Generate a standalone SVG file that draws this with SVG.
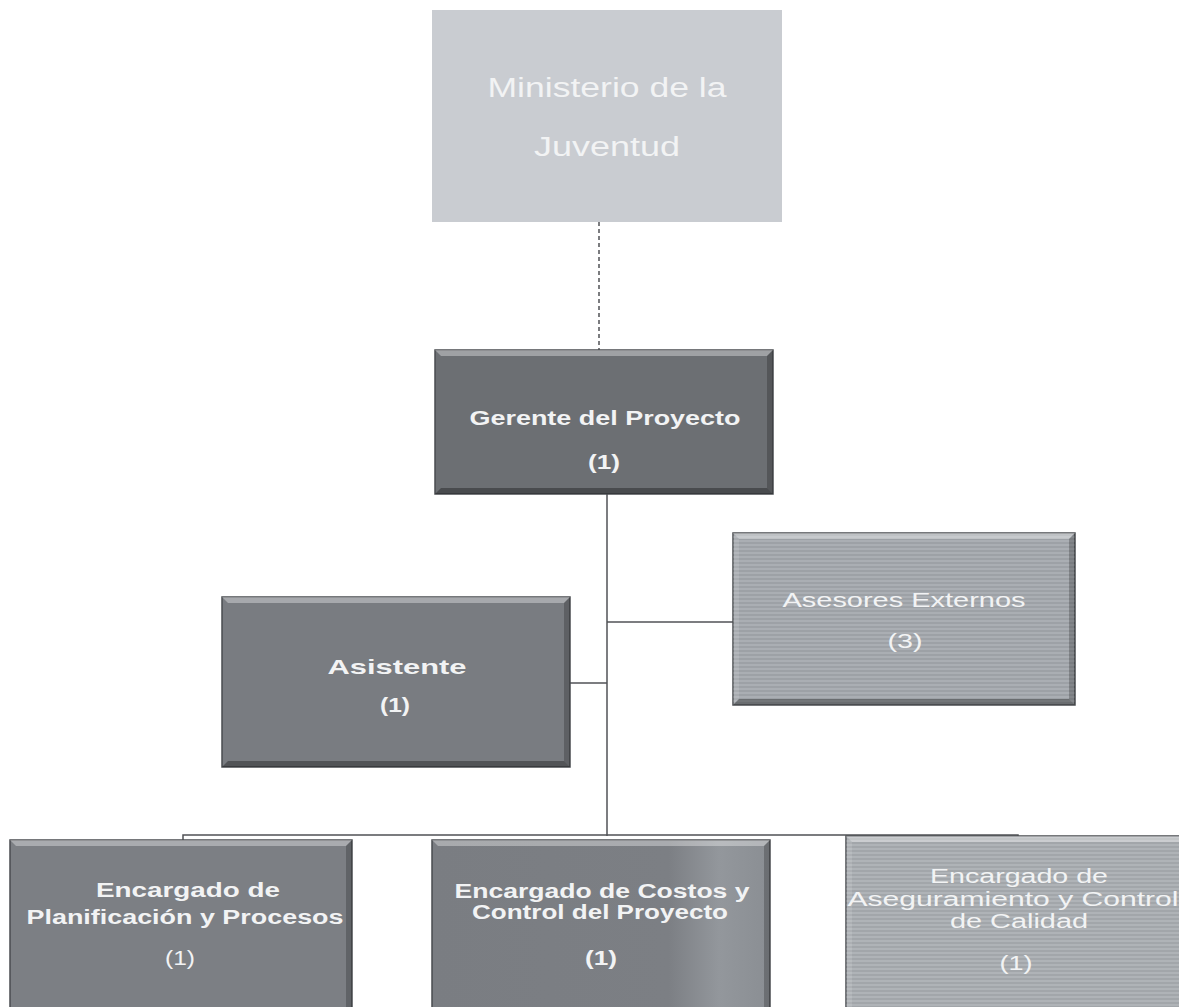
<svg xmlns="http://www.w3.org/2000/svg" width="1179" height="1007" viewBox="0 0 1179 1007">
<defs>
<pattern id="stripes" width="6" height="4" patternUnits="userSpaceOnUse">
<rect width="6" height="4" fill="none"/>
<line x1="0" y1="1" x2="6" y2="1" stroke="#ffffff" stroke-opacity="0.18" stroke-width="1"/>
<line x1="0" y1="3" x2="6" y2="3" stroke="#000000" stroke-opacity="0.06" stroke-width="1"/>
</pattern>
<linearGradient id="costosGrad" x1="0" y1="0" x2="1" y2="0">
<stop offset="0" stop-color="#7a7d82"/>
<stop offset="0.7" stop-color="#7c7f84"/>
<stop offset="0.85" stop-color="#93979c"/>
<stop offset="1" stop-color="#8a8e93"/>
</linearGradient>
</defs>
<style>
.box{stroke:#4a4c50;stroke-width:1.5}
.hl{fill:#ffffff;fill-opacity:0.35}
.hl2{fill:#ffffff;fill-opacity:0.12}
.sh{fill:#000000;fill-opacity:0.22}
.sh2{fill:#000000;fill-opacity:0.32}
.t{font-family:"Liberation Sans",Arial,sans-serif;fill:#f2f3f4;text-anchor:middle}
.b{font-weight:bold}
.conn{stroke:#505256;stroke-width:1.5;fill:none}
</style>
<rect width="1179" height="1007" fill="#ffffff"/>
<g id="connectors">
<line class="conn" x1="599" y1="222" x2="599" y2="350" stroke-dasharray="4 3"/>
<line class="conn" x1="607" y1="494" x2="607" y2="836"/>
<line class="conn" x1="607" y1="622" x2="733" y2="622"/>
<line class="conn" x1="570" y1="683" x2="607" y2="683"/>
<polyline class="conn" points="183,840 183,835 1018,835 1018,838"/>
</g>
<g id="ministerio">
<rect x="432" y="10" width="350" height="212" fill="#c9ccd1"/>
<text class="t" x="607" y="97" font-size="27" textLength="239" lengthAdjust="spacingAndGlyphs" fill="#f7f8f9">Ministerio de la</text>
<text class="t" x="607" y="156" font-size="27" textLength="146" lengthAdjust="spacingAndGlyphs" fill="#f7f8f9">Juventud</text>
</g>
<g id="gerente">
<rect class="box" x="435" y="350" width="338" height="144" fill="#6c6f73"/>
<polygon class="hl" points="435,350 773,350 767,356 441,356"/>
<polygon class="sh" points="773,350 773,494 767,488 767,356"/>
<polygon class="sh2" points="435,494 773,494 767,488 441,488"/>
<text class="t b" x="605" y="425" font-size="21" textLength="271" lengthAdjust="spacingAndGlyphs">Gerente del Proyecto</text>
<text class="t b" x="604" y="469" font-size="21" textLength="32" lengthAdjust="spacingAndGlyphs">(1)</text>
</g>
<g id="asesores">
<rect class="box" x="733" y="533" width="342" height="172" fill="#a2a6ab"/>
<rect x="733" y="533" width="342" height="172" fill="url(#stripes)"/>
<polygon class="hl" points="733,533 1075,533 1069,539 739,539"/>
<polygon class="hl2" points="733,533 739,539 739,699 733,705"/>
<polygon class="sh" points="1075,533 1075,705 1069,699 1069,539"/>
<polygon class="sh2" points="733,705 1075,705 1069,699 739,699"/>
<text class="t" x="904" y="607" font-size="21" textLength="243" lengthAdjust="spacingAndGlyphs">Asesores Externos</text>
<text class="t" x="905" y="648" font-size="21" textLength="35" lengthAdjust="spacingAndGlyphs">(3)</text>
</g>
<g id="asistente">
<rect class="box" x="222" y="597" width="348" height="170" fill="#797c81"/>
<polygon class="hl" points="222,597 570,597 564,603 228,603"/>
<polygon class="sh" points="570,597 570,767 564,761 564,603"/>
<polygon class="sh2" points="222,767 570,767 564,761 228,761"/>
<text class="t b" x="397" y="674" font-size="21" textLength="139" lengthAdjust="spacingAndGlyphs">Asistente</text>
<text class="t b" x="395" y="712" font-size="21" textLength="30" lengthAdjust="spacingAndGlyphs">(1)</text>
</g>
<g id="planificacion">
<rect class="box" x="10" y="840" width="342" height="180" fill="#7c7f84"/>
<polygon class="hl" points="10,840 352,840 346,846 16,846"/>
<polygon class="sh" points="352,840 352,1020 346,1014 346,846"/>
<text class="t b" x="188" y="897" font-size="20" textLength="184" lengthAdjust="spacingAndGlyphs">Encargado de</text>
<text class="t b" x="185" y="924" font-size="20" textLength="317" lengthAdjust="spacingAndGlyphs">Planificación y Procesos</text>
<text class="t" x="180" y="965" font-size="20" textLength="30" lengthAdjust="spacingAndGlyphs">(1)</text>
</g>
<g id="costos">
<rect class="box" x="432" y="840" width="338" height="180" fill="url(#costosGrad)"/>
<polygon class="hl" points="432,840 770,840 764,846 438,846"/>
<polygon class="sh" points="770,840 770,1020 764,1014 764,846"/>
<text class="t b" x="602" y="898" font-size="20" textLength="295" lengthAdjust="spacingAndGlyphs">Encargado de Costos y</text>
<text class="t b" x="600" y="919" font-size="20" textLength="256" lengthAdjust="spacingAndGlyphs">Control del Proyecto</text>
<text class="t b" x="601" y="965" font-size="20" textLength="32" lengthAdjust="spacingAndGlyphs">(1)</text>
</g>
<g id="calidad">
<rect class="box" x="846" y="836" width="345" height="184" fill="#a7abb0"/>
<rect x="846" y="836" width="345" height="184" fill="url(#stripes)"/>
<polygon class="hl" points="846,836 1191,836 1185,842 852,842"/>
<polygon class="hl2" points="846,836 852,842 852,1020 846,1020"/>
<text class="t" x="1019" y="883" font-size="20" textLength="178" lengthAdjust="spacingAndGlyphs">Encargado de</text>
<text class="t" x="1013" y="906" font-size="20" textLength="331" lengthAdjust="spacingAndGlyphs">Aseguramiento y Control</text>
<text class="t" x="1019" y="928" font-size="20" textLength="138" lengthAdjust="spacingAndGlyphs">de Calidad</text>
<text class="t" x="1016" y="970" font-size="20" textLength="33" lengthAdjust="spacingAndGlyphs">(1)</text>
</g>
</svg>
